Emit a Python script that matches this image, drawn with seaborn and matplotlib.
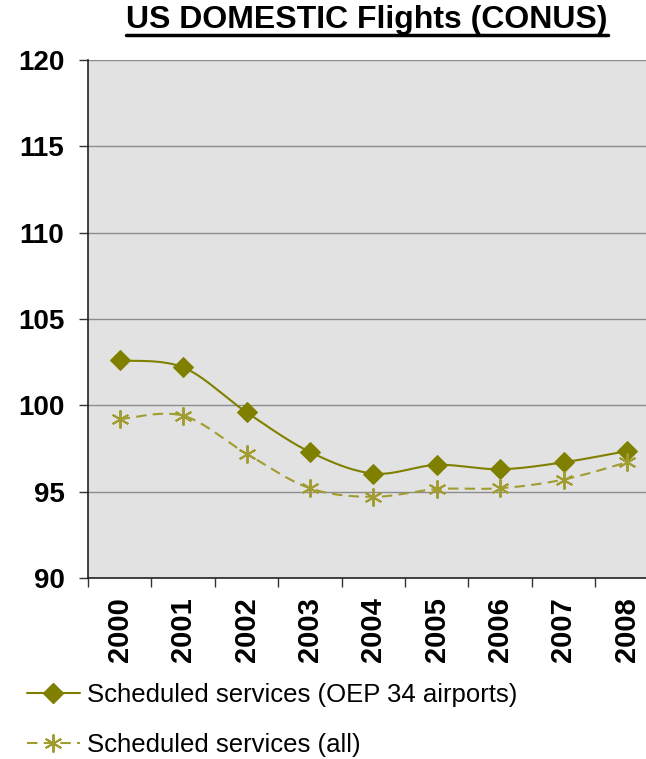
import numpy as np
import pandas as pd
import matplotlib
matplotlib.use("Agg")
import matplotlib.pyplot as plt
import seaborn as sns
from matplotlib.lines import Line2D
from matplotlib.ticker import FixedLocator

# ---- data ----
years = ["2000", "2001", "2002", "2003", "2004", "2005", "2006", "2007", "2008"]
oep_values = [102.6, 102.2, 99.6, 97.3, 96.05, 96.55, 96.3, 96.7, 97.35]
all_values = [99.2, 99.4, 97.2, 95.2, 94.7, 95.15, 95.2, 95.7, 96.7]
series_labels = ["Scheduled services (OEP 34 airports)", "Scheduled services (all)"]
title_text = "US DOMESTIC Flights (CONUS)"
y_ticks = [90, 95, 100, 105, 110, 115, 120]

# ---- style ----
sns.set_theme(style="white")
plt.rcParams["font.family"] = ["Liberation Sans", "DejaVu Sans"]
plt.rcParams["text.color"] = "black"

C_OEP = "#808000"
C_ALL = "#A09C30"


def smooth_curve(vals, n=30):
    """Catmull-Rom style smoothing (like Excel's smoothed line) for drawing."""
    pts = np.column_stack([np.arange(len(vals), dtype=float), np.asarray(vals, float)])
    out = []
    for i in range(len(pts) - 1):
        p0 = pts[i - 1] if i > 0 else pts[i]
        p1 = pts[i]
        p2 = pts[i + 1]
        p3 = pts[i + 2] if i + 2 < len(pts) else pts[i + 1]
        c1 = p1 + (p2 - p0) / 6.0
        c2 = p2 - (p3 - p1) / 6.0
        t = np.linspace(0, 1, n, endpoint=(i == len(pts) - 2))[:, None]
        seg = ((1 - t) ** 3) * p1 + 3 * ((1 - t) ** 2) * t * c1 + 3 * (1 - t) * t ** 2 * c2 + t ** 3 * p2
        out.append(seg)
    out = np.vstack(out)
    return out[:, 0], out[:, 1]


fig = plt.figure(figsize=(6.46, 7.59), dpi=100)
W, H = 646.0, 759.0
ax = fig.add_axes([88 / W, (H - 578) / H, 570.6 / W, 518 / H])
ax.set_facecolor("#E2E2E2")

idx = np.arange(len(years))

# smoothed lines
sx, sy = smooth_curve(oep_values)
sns.lineplot(x=sx, y=sy, sort=False, estimator=None, color=C_OEP, linewidth=1.5, ax=ax)
sx2, sy2 = smooth_curve(all_values)
sns.lineplot(x=sx2, y=sy2, sort=False, estimator=None, color=C_ALL, linewidth=1.5,
             dashes=False, ax=ax, linestyle=(0, (5, 3)))

# markers
sns.lineplot(x=idx, y=oep_values, sort=False, estimator=None, color=C_OEP,
             linestyle="None", marker="D", markersize=10, markeredgecolor=C_OEP, ax=ax)
sns.lineplot(x=idx, y=all_values, sort=False, estimator=None, color=C_ALL,
             linestyle="None", marker=(6, 2, 0), markersize=13, markeredgewidth=1.4,
             markeredgecolor=C_ALL, ax=ax)

# axes
ax.set_xlim(-0.5, len(years) - 0.5)
ax.set_ylim(min(y_ticks), max(y_ticks))
ax.set_yticks(y_ticks)
ax.set_yticklabels([str(v) for v in y_ticks], fontsize=20, fontweight="bold", color="black")
ax.set_xticks(idx)
ax.set_xticklabels(years, rotation=90, fontsize=21, fontweight="bold", color="black")
ax.xaxis.set_minor_locator(FixedLocator(np.arange(-0.5, len(years), 1.0)))
ax.tick_params(axis="x", which="major", length=0, pad=14)
ax.tick_params(axis="x", which="minor", length=6.5, width=1, color="#333333", direction="out", bottom=True)
ax.tick_params(axis="y", which="major", length=6.5, width=1, color="#333333", direction="out", left=True, pad=10.5)
ax.yaxis.grid(True, color="#8C8C8C", linewidth=1)
ax.xaxis.grid(False)
ax.set_axisbelow(True)
for s in ["top", "right"]:
    ax.spines[s].set_visible(False)
for s in ["left", "bottom"]:
    ax.spines[s].set_visible(True)
    ax.spines[s].set_color("#222222")
    ax.spines[s].set_linewidth(1.2)
ax.set_xlabel("")
ax.set_ylabel("")

# title with underline
t = fig.text(367 / W, 1 - 20 / H, title_text, ha="center", va="center",
             fontsize=23, fontweight="bold", color="black")
fig.canvas.draw()
bb = t.get_window_extent(renderer=fig.canvas.get_renderer())
uy = 1 - 35 / H
fig.add_artist(Line2D([bb.x0 / W, bb.x1 / W], [uy, uy], transform=fig.transFigure,
                      color="black", linewidth=2.5))

# legend
handles = [
    Line2D([], [], color=C_OEP, linewidth=1.5, marker="D", markersize=10),
    Line2D([], [], color=C_ALL, linewidth=1.5, linestyle=(0, (5, 3)), marker=(6, 2, 0),
           markersize=13, markeredgewidth=1.4),
]
fig.legend(handles, series_labels, loc="upper left", bbox_to_anchor=(27 / W, 1 - 683 / H),
           frameon=False, fontsize=18.5, handlelength=2.05, handletextpad=0.28,
           labelspacing=1.0, borderpad=0, borderaxespad=0, labelcolor="black")

fig.savefig("out.png", dpi=100)
